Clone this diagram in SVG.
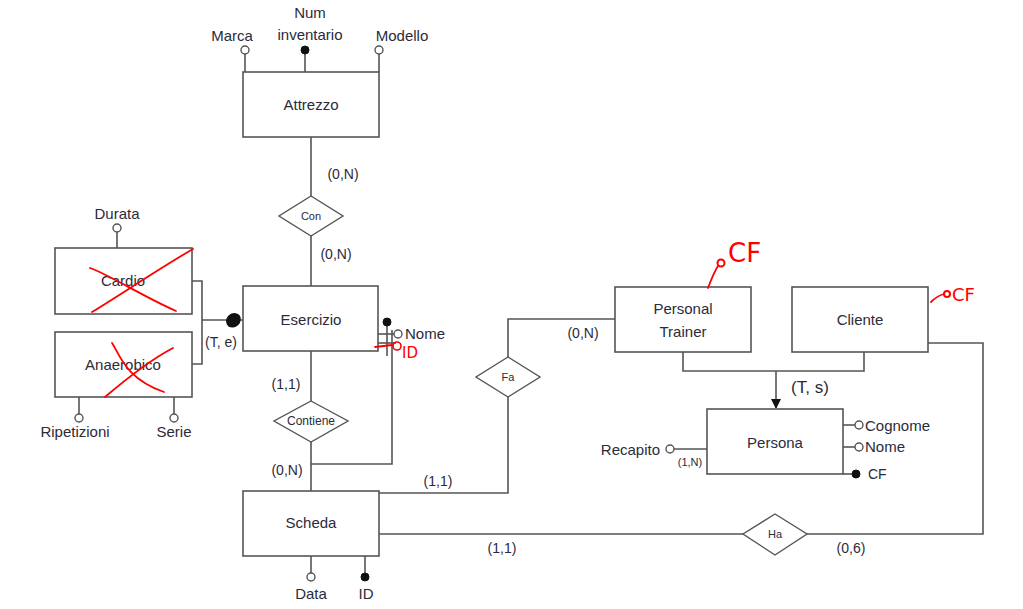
<svg xmlns="http://www.w3.org/2000/svg" width="1023" height="609" viewBox="0 0 1023 609">
<style>
.ent{fill:#fff;stroke:#555;stroke-width:1.6}
.rel{fill:#fff;stroke:#555;stroke-width:1.4}
.ln{fill:none;stroke:#555;stroke-width:1.6}
.t{font-family:"Liberation Sans",Arial,sans-serif;font-size:15px;fill:#2b2b3a}
.s{font-family:"Liberation Sans",Arial,sans-serif;font-size:14px;fill:#2b2b3a}
.d{font-family:"Liberation Sans",Arial,sans-serif;font-size:11px;fill:#2b2b3a}
.oc{fill:#fff;stroke:#555;stroke-width:1.4}
.fc{fill:#111;stroke:#111;stroke-width:1}
.red{fill:none;stroke:#f00;stroke-width:1.8;stroke-linecap:round}
.rt{font-family:"DejaVu Sans",sans-serif;fill:#f00}
</style>
<defs>
<marker id="arr" markerWidth="10" markerHeight="10" refX="9" refY="5" orient="auto" markerUnits="userSpaceOnUse">
<path d="M0,0 L10,5 L0,10 z" fill="#111"/>
</marker>
</defs>
<g id="connectors">
<line class="ln" x1="311" y1="137" x2="311" y2="196"/>
<line class="ln" x1="311" y1="236" x2="311" y2="286"/>
<line class="ln" x1="311" y1="351" x2="311" y2="401"/>
<line class="ln" x1="311" y1="442" x2="311" y2="491"/>
<polyline class="ln" points="311,464 392,464 392,330"/>
<polyline class="ln" points="192,281 202,281 202,364 192,364"/>
<line class="ln" x1="202" y1="320" x2="243" y2="320"/>
<polyline class="ln" points="379,493 508,493 508,397"/>
<polyline class="ln" points="508,357 508,319 615,319"/>
<polyline class="ln" points="683,352 683,371 864,371 864,352"/>
<line class="ln" x1="776" y1="371" x2="776" y2="408" marker-end="url(#arr)"/>
<line class="ln" x1="379" y1="534" x2="743" y2="534"/>
<polyline class="ln" points="807,534 983,534 983,343 928,343"/>
<text class="s" x="343" y="179" text-anchor="middle">(0,N)</text>
<text class="s" x="336" y="259" text-anchor="middle">(0,N)</text>
<text class="s" x="286" y="389" text-anchor="middle">(1,1)</text>
<text class="s" x="287" y="475" text-anchor="middle">(0,N)</text>
<text class="s" x="221" y="347" text-anchor="middle">(T, e)</text>
<text class="s" x="438" y="486" text-anchor="middle">(1,1)</text>
<text class="s" x="583" y="338" text-anchor="middle">(0,N)</text>
<text class="s" x="502" y="553" text-anchor="middle">(1,1)</text>
<text class="s" x="851" y="553" text-anchor="middle">(0,6)</text>
<text class="t" x="810" y="393" text-anchor="middle" style="font-size:17px">(T, s)</text>
</g>
<g id="attrezzo">
<rect class="ent" x="243" y="72" width="136" height="65"/>
<text class="t" x="311" y="110" text-anchor="middle">Attrezzo</text>
<line class="ln" x1="245" y1="54" x2="245" y2="72"/>
<circle class="oc" cx="245" cy="50" r="4"/>
<line class="ln" x1="305" y1="54" x2="305" y2="72"/>
<circle class="fc" cx="305" cy="50" r="4"/>
<line class="ln" x1="379" y1="54" x2="379" y2="72"/>
<circle class="oc" cx="379" cy="50" r="4"/>
<text class="t" x="232" y="41" text-anchor="middle">Marca</text>
<text class="t" x="310" y="18" text-anchor="middle">Num</text>
<text class="t" x="310" y="40" text-anchor="middle">inventario</text>
<text class="t" x="402" y="41" text-anchor="middle">Modello</text>
</g>
<g id="con">
<polygon class="rel" points="311,196 343,216 311,236 279,216"/>
<text class="d" x="311" y="220" text-anchor="middle">Con</text>
</g>
<g id="esercizio">
<rect class="ent" x="243" y="286" width="135" height="65"/>
<text class="t" x="311" y="325" text-anchor="middle">Esercizio</text>
<line class="ln" x1="378" y1="334" x2="394" y2="334"/>
<circle class="oc" cx="398" cy="334" r="4"/>
<line class="ln" x1="378" y1="343" x2="396" y2="343"/>
<line class="ln" x1="387" y1="322" x2="387" y2="356"/>
<circle class="fc" cx="387" cy="322" r="4"/>
<text class="t" x="405" y="339">Nome</text>
</g>
<g id="cardio">
<rect class="ent" x="55" y="248" width="137" height="66"/>
<text class="t" x="123" y="286" text-anchor="middle">Cardio</text>
<line class="ln" x1="117" y1="232" x2="117" y2="248"/>
<circle class="oc" cx="117" cy="228" r="4"/>
<text class="t" x="117" y="219" text-anchor="middle">Durata</text>
</g>
<g id="anaerobico">
<rect class="ent" x="55" y="332" width="137" height="65"/>
<text class="t" x="123" y="370" text-anchor="middle">Anaerobico</text>
<line class="ln" x1="79" y1="397" x2="79" y2="414"/>
<circle class="oc" cx="79" cy="418" r="4"/>
<line class="ln" x1="174" y1="397" x2="174" y2="414"/>
<circle class="oc" cx="174" cy="418" r="4"/>
<text class="t" x="75" y="437" text-anchor="middle">Ripetizioni</text>
<text class="t" x="174" y="437" text-anchor="middle">Serie</text>
</g>
<g id="contiene">
<polygon class="rel" points="311,401 348,421 311,442 274,421"/>
<text class="d" x="311" y="425" text-anchor="middle" style="font-size:12px">Contiene</text>
</g>
<g id="scheda">
<rect class="ent" x="243" y="491" width="136" height="65"/>
<text class="t" x="311" y="528" text-anchor="middle">Scheda</text>
<line class="ln" x1="311" y1="556" x2="311" y2="573"/>
<circle class="oc" cx="311" cy="577" r="4"/>
<line class="ln" x1="365" y1="556" x2="365" y2="573"/>
<circle class="fc" cx="365" cy="577" r="4"/>
<text class="t" x="311" y="599" text-anchor="middle">Data</text>
<text class="t" x="366" y="599" text-anchor="middle">ID</text>
</g>
<g id="fa">
<polygon class="rel" points="508,357 540,377 508,397 476,377"/>
<text class="d" x="508" y="381" text-anchor="middle">Fa</text>
</g>
<g id="personal-trainer">
<rect class="ent" x="615" y="287" width="136" height="65"/>
<text class="t" x="683" y="314" text-anchor="middle">Personal</text>
<text class="t" x="683" y="337" text-anchor="middle">Trainer</text>
</g>
<g id="cliente">
<rect class="ent" x="792" y="287" width="136" height="65"/>
<text class="t" x="860" y="325" text-anchor="middle">Cliente</text>
</g>
<g id="persona">
<rect class="ent" x="707" y="409" width="136" height="65"/>
<text class="t" x="775" y="448" text-anchor="middle">Persona</text>
<line class="ln" x1="843" y1="425" x2="855" y2="425"/>
<circle class="oc" cx="859" cy="425" r="4"/>
<line class="ln" x1="843" y1="447" x2="855" y2="447"/>
<circle class="oc" cx="859" cy="447" r="4"/>
<line class="ln" x1="843" y1="474" x2="852" y2="474"/>
<circle class="fc" cx="856" cy="474" r="4"/>
<text class="t" x="865" y="431">Cognome</text>
<text class="t" x="865" y="452">Nome</text>
<text class="s" x="868" y="479">CF</text>
<line class="ln" x1="674" y1="449" x2="707" y2="449"/>
<circle class="oc" cx="670" cy="449" r="4"/>
<text class="t" x="660" y="455" text-anchor="end">Recapito</text>
<text class="d" x="690" y="466" text-anchor="middle">(1,N)</text>
</g>
<g id="ha">
<polygon class="rel" points="775,514 807,534 775,555 743,534"/>
<text class="d" x="775" y="538" text-anchor="middle">Ha</text>
</g>
<g id="annotations">
<path class="red" d="M90,268 C110,275 140,295 176,311"/>
<path class="red" d="M92,312 C120,295 160,268 193,249"/>
<path class="red" d="M112,343 C120,355 125,378 164,392"/>
<path class="red" d="M105,397 C125,380 150,360 173,348"/>
<path d="M229,316 C234,312 240,314 240,319 C240,325 234,328 229,326 C226,323 226,319 229,316 z" fill="#111" stroke="#111" stroke-width="1.5"/>
<path class="red" d="M375,347 L392,345"/>
<circle cx="397" cy="346" r="4" fill="none" stroke="#f00" stroke-width="1.6"/>
<text class="rt" x="402" y="358" style="font-size:15px">ID</text>
<path class="red" d="M708,288 C711,280 714,272 718,266"/>
<circle cx="721" cy="263" r="3.5" fill="none" stroke="#f00" stroke-width="2"/>
<text class="rt" x="728" y="262" style="font-size:26px">CF</text>
<path class="red" d="M931,302 C935,298 940,295 944,294"/>
<circle cx="947" cy="294" r="3" fill="none" stroke="#f00" stroke-width="2"/>
<text class="rt" x="952" y="301" style="font-size:18px">CF</text>
</g>
</svg>
